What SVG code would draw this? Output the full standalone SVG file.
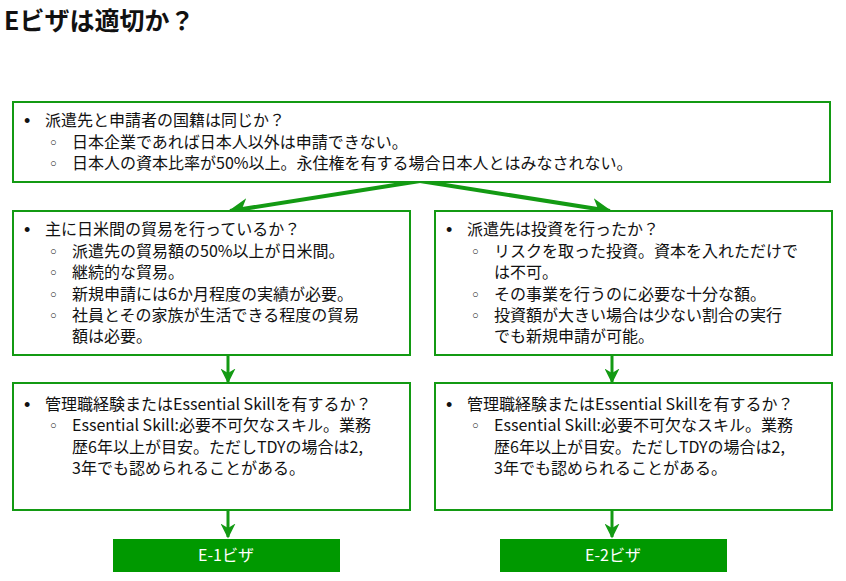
<svg xmlns="http://www.w3.org/2000/svg" width="846" height="581" viewBox="0 0 846 581">
<style>
.box{fill:#fff;stroke:#139a13;stroke-width:2}
.t{font-family:"Noto Sans CJK JP","Liberation Sans",sans-serif;font-size:16px;fill:#111}
.b{font-family:"Liberation Sans",sans-serif;font-size:18px;fill:#111}
.o{font-family:"Liberation Sans",sans-serif;font-size:11px;fill:#111}
.c{stroke:#139a13;fill:none}
.lab{fill:#009900}
.lt{font-family:"Noto Sans CJK JP","Liberation Sans",sans-serif;font-size:16px;fill:#fff;text-anchor:middle}
</style>
<defs>
<marker id="ah" viewBox="0 0 10 10" refX="9" refY="5" markerWidth="5" markerHeight="5" orient="auto" markerUnits="strokeWidth">
<path d="M0,0 L10,5 L0,10 L3,5 Z" fill="#139a13"/>
</marker>
</defs>
<text x="4" y="30" style="font-family:'Noto Sans CJK JP','Liberation Sans',sans-serif;font-size:25px;font-weight:bold;fill:#111">Eビザは適切か？</text>
<g id="connectors">
<path class="c" stroke-width="4" d="M420,181 L230,211" marker-end="url(#ah)"/>
<path class="c" stroke-width="4" d="M420,181 L610,211" marker-end="url(#ah)"/>
<path class="c" stroke-width="3" d="M228,355 L228,382" marker-end="url(#ah)"/>
<path class="c" stroke-width="3" d="M612,355 L612,382" marker-end="url(#ah)"/>
<path class="c" stroke-width="3" d="M228,510 L228,537" marker-end="url(#ah)"/>
<path class="c" stroke-width="3" d="M612,510 L612,537" marker-end="url(#ah)"/>
</g>
<g id="n1">
<rect class="box" x="13" y="102" width="817" height="80"/>
<text class="b" x="24" y="127">•</text><text class="t" x="45" y="126">派遣先と申請者の国籍は同じか？</text>
<text class="o" x="50" y="146">○</text><text class="t" x="72" y="148">日本企業であれば日本人以外は申請できない。</text>
<text class="o" x="50" y="167">○</text><text class="t" x="72" y="169">日本人の資本比率が50%以上。永住権を有する場合日本人とはみなされない。</text>
</g>
<g id="n2">
<rect class="box" x="13" y="211" width="397" height="144"/>
<text class="b" x="24" y="236">•</text><text class="t" x="45" y="235">主に日米間の貿易を行っているか？</text>
<text class="o" x="50" y="255">○</text><text class="t" x="72" y="257">派遣先の貿易額の50%以上が日米間。</text>
<text class="o" x="50" y="276">○</text><text class="t" x="72" y="278">継続的な貿易。</text>
<text class="o" x="50" y="298">○</text><text class="t" x="72" y="300">新規申請には6か月程度の実績が必要。</text>
<text class="o" x="50" y="319">○</text><text class="t" x="72" y="321">社員とその家族が生活できる程度の貿易</text>
<text class="t" x="72" y="342">額は必要。</text>
</g>
<g id="n3">
<rect class="box" x="435" y="211" width="397" height="144"/>
<text class="b" x="446" y="236">•</text><text class="t" x="467" y="235">派遣先は投資を行ったか？</text>
<text class="o" x="472" y="255">○</text><text class="t" x="494" y="257">リスクを取った投資。資本を入れただけで</text>
<text class="t" x="494" y="278">は不可。</text>
<text class="o" x="472" y="298">○</text><text class="t" x="494" y="300">その事業を行うのに必要な十分な額。</text>
<text class="o" x="472" y="319">○</text><text class="t" x="494" y="321">投資額が大きい場合は少ない割合の実行</text>
<text class="t" x="494" y="342">でも新規申請が可能。</text>
</g>
<g id="n4">
<rect class="box" x="13" y="383" width="397" height="127"/>
<text class="b" x="24" y="411">•</text><text class="t" x="45" y="410">管理職経験またはEssential Skillを有するか？</text>
<text class="o" x="50" y="429">○</text><text class="t" x="72" y="431">Essential Skill:必要不可欠なスキル。業務</text>
<text class="t" x="72" y="453">歴6年以上が目安。ただしTDYの場合は2,</text>
<text class="t" x="72" y="474">3年でも認められることがある。</text>
</g>
<g id="n5">
<rect class="box" x="435" y="383" width="397" height="127"/>
<text class="b" x="446" y="411">•</text><text class="t" x="467" y="410">管理職経験またはEssential Skillを有するか？</text>
<text class="o" x="472" y="429">○</text><text class="t" x="494" y="431">Essential Skill:必要不可欠なスキル。業務</text>
<text class="t" x="494" y="453">歴6年以上が目安。ただしTDYの場合は2,</text>
<text class="t" x="494" y="474">3年でも認められることがある。</text>
</g>
<g id="e1">
<rect class="lab" x="113" y="539" width="227" height="33"/>
<text class="lt" x="226" y="561">E-1ビザ</text>
</g>
<g id="e2">
<rect class="lab" x="500" y="539" width="227" height="33"/>
<text class="lt" x="613" y="561">E-2ビザ</text>
</g>
</svg>
